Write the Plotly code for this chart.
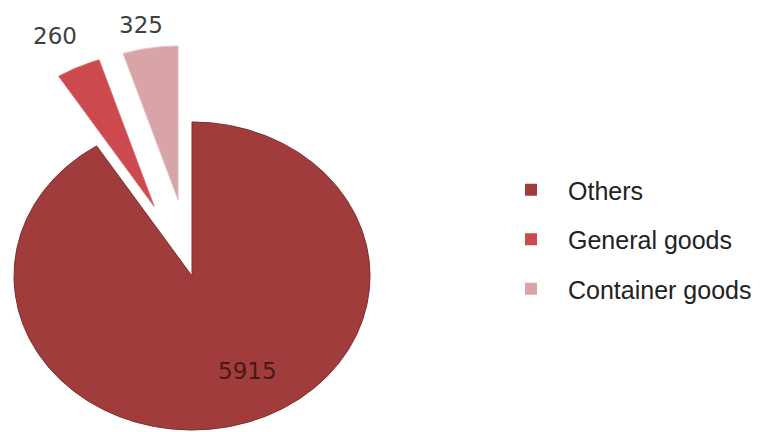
import numpy as np
import plotly.graph_objects as go

# Cargo breakdown
categories = ["Others", "General goods", "Container goods"]
values = [5915, 260, 325]
pulls = [0.0, 0.5, 0.5]
colors = ["#A03C3C", "#CC4A4E", "#D9A4A8"]
edge_colors = ["#7E2A2A", "#D86A6E", "#E6C2C5"]

# Figure geometry (pixels)
W, H = 783, 432
CX, CY = 192, 276          # pie centre
RX, RY = 178, 154          # horizontal / vertical radius

# Label anchor points in pie units (x right, y up)
label_pos = [(0.309, -0.617), (-0.770, 1.558), (-0.287, 1.630)]
label_colors = ["#4A1818", "#404040", "#404040"]

total = sum(values)
fig = go.Figure()

start = 0.0
for name, val, pull, col, ecol in zip(categories, values, pulls, colors, edge_colors):
    sweep = 2 * np.pi * val / total
    a0, a1 = start, start + sweep
    mid = (a0 + a1) / 2
    ox, oy = pull * np.sin(mid), pull * np.cos(mid)
    theta = np.linspace(a0, a1, max(int(np.degrees(sweep)) * 2, 8))
    xs = np.concatenate([[ox], ox + np.sin(theta), [ox]])
    ys = np.concatenate([[oy], oy + np.cos(theta), [oy]])
    fig.add_trace(go.Scatter(
        x=xs, y=ys, mode="lines", fill="toself",
        fillcolor=col, line=dict(color=ecol, width=1),
        hoverinfo="skip", showlegend=False,
    ))
    start = a1

# Legend entries
for i, (name, col) in enumerate(zip(categories, colors)):
    fig.add_trace(go.Scatter(
        x=[None], y=[None], mode="markers", name=name,
        legendgroup=f"g{i}",
        marker=dict(symbol="square", size=12, color=col),
    ))

# Value labels
for (lx, ly), val, tc in zip(label_pos, values, label_colors):
    fig.add_annotation(
        x=lx, y=ly, text=str(val), showarrow=False,
        font=dict(family="DejaVu Sans", size=23, color=tc),
        xanchor="center", yanchor="middle",
    )

fig.update_layout(
    width=W, height=H,
    margin=dict(l=0, r=0, t=0, b=0),
    paper_bgcolor="white", plot_bgcolor="white",
    xaxis=dict(range=[-CX / RX, (W - CX) / RX], visible=False, fixedrange=True),
    yaxis=dict(range=[-(H - CY) / RY, CY / RY], visible=False, fixedrange=True),
    showlegend=True,
    legend=dict(
        x=494 / W, y=1 - 167 / H, xanchor="left", yanchor="top",
        font=dict(family="Liberation Sans", size=25, color="#222222"),
        itemwidth=64, tracegroupgap=14, traceorder="grouped",
        bgcolor="rgba(0,0,0,0)",
    ),
)

fig.write_html("out.html")
